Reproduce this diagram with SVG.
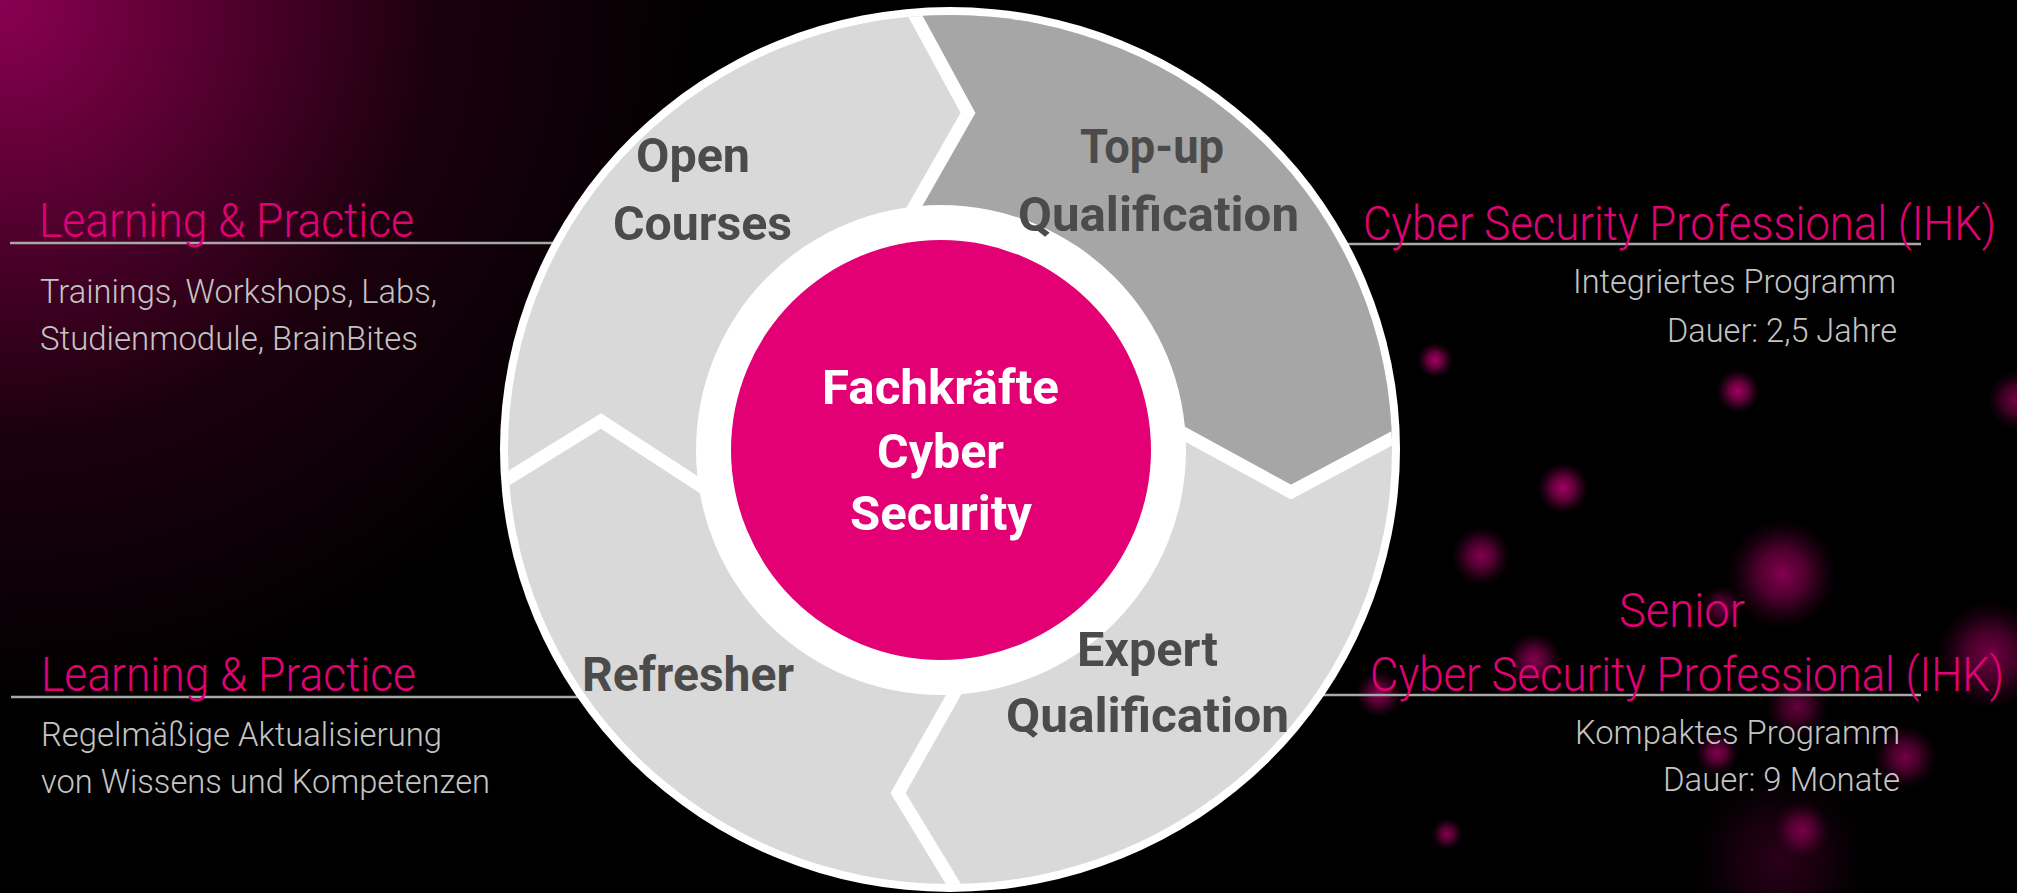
<svg xmlns="http://www.w3.org/2000/svg" width="2017" height="893" viewBox="0 0 2017 893">
<defs>
<radialGradient id="corner" gradientUnits="userSpaceOnUse" cx="0" cy="0" r="720">
<stop offset="0" stop-color="#8a0052"/>
<stop offset="0.3" stop-color="#55002f"/>
<stop offset="0.6" stop-color="#1c000e"/>
<stop offset="1" stop-color="#000"/>
</radialGradient>
<radialGradient id="bokeh">
<stop offset="0" stop-color="#b0006a" stop-opacity="0.95"/>
<stop offset="0.45" stop-color="#8a0052" stop-opacity="0.7"/>
<stop offset="1" stop-color="#4a002a" stop-opacity="0"/>
</radialGradient>
<clipPath id="ringClip"><ellipse cx="950" cy="449.5" rx="442" ry="434.5"/></clipPath>
<style>
.ring{font-family:Roboto,"Liberation Sans",sans-serif;font-weight:700;font-size:48px;fill:#4b4b4b}
.core{font-family:Roboto,"Liberation Sans",sans-serif;font-weight:700;font-size:48px;fill:#fff}
.title{font-family:Roboto,"Liberation Sans",sans-serif;font-weight:300;font-size:48px;fill:#e20074}
.desc{font-family:Roboto,"Liberation Sans",sans-serif;font-weight:300;font-size:34px;fill:#c4c4c4}
.rule{stroke:#a8a8a8;stroke-width:2.5}
.sep{fill:none;stroke:#fff;stroke-width:13;stroke-linejoin:miter}
</style>
</defs>
<rect width="2017" height="893" fill="#000"/>
<rect width="2017" height="893" fill="url(#corner)"/>
<g id="bokeh-dots">
<circle cx="1435" cy="360" r="18" fill="url(#bokeh)"/>
<circle cx="1738" cy="391" r="22" fill="url(#bokeh)"/>
<circle cx="1563" cy="488" r="26" fill="url(#bokeh)"/>
<circle cx="1481" cy="556" r="30" fill="url(#bokeh)" opacity="0.8"/>
<circle cx="1782" cy="574" r="55" fill="url(#bokeh)" opacity="0.8"/>
<circle cx="2017" cy="400" r="30" fill="url(#bokeh)" opacity="0.7"/>
<circle cx="1722" cy="607" r="22" fill="url(#bokeh)" opacity="0.6"/>
<circle cx="1990" cy="655" r="55" fill="url(#bokeh)" opacity="0.7"/>
<circle cx="1534" cy="660" r="28" fill="url(#bokeh)" opacity="0.8"/>
<circle cx="1379" cy="694" r="24" fill="url(#bokeh)" opacity="0.8"/>
<circle cx="1797" cy="707" r="32" fill="url(#bokeh)" opacity="0.6"/>
<circle cx="1717" cy="753" r="22" fill="url(#bokeh)" opacity="0.8"/>
<circle cx="1905" cy="757" r="32" fill="url(#bokeh)" opacity="0.7"/>
<circle cx="1802" cy="830" r="28" fill="url(#bokeh)" opacity="0.7"/>
<circle cx="1447" cy="834" r="16" fill="url(#bokeh)" opacity="0.8"/>
<circle cx="1780" cy="860" r="90" fill="url(#bokeh)" opacity="0.25"/>
</g>
<g id="connectors">
<line class="rule" x1="10" y1="243" x2="620" y2="243"/>
<line class="rule" x1="11" y1="697" x2="620" y2="697"/>
<line class="rule" x1="1300" y1="244" x2="1921" y2="244"/>
<line class="rule" x1="1300" y1="695" x2="1921" y2="695"/>
</g>
<g id="cycle">
<ellipse cx="950" cy="449.5" rx="450" ry="442.5" fill="#fff"/>
<ellipse cx="950" cy="449.5" rx="442" ry="434.5" fill="#d9d9d9"/>
<polygon clip-path="url(#ringClip)" fill="#a6a6a6" points="905,-3 968,113 900,232 1170,426 1291,492 1415,426 1480,390 1480,-40 890,-40"/>
<g clip-path="url(#ringClip)">
<polyline class="sep" points="905,-3 968,113 900,232"/>
<polyline class="sep" points="1170,426 1291,492 1415,426"/>
<polyline class="sep" points="962,680 898,793 965,903"/>
<polyline class="sep" points="488,491 601,421 710,492"/>
</g>
<circle cx="941" cy="450" r="245" fill="#fff"/>
</g>
<g id="node-open-courses">
<text class="ring" x="636" y="172" textLength="114" lengthAdjust="spacingAndGlyphs">Open</text>
<text class="ring" x="613" y="240" textLength="179" lengthAdjust="spacingAndGlyphs">Courses</text>
</g>
<g id="node-topup">
<text class="ring" x="1080" y="163" textLength="144" lengthAdjust="spacingAndGlyphs">Top-up</text>
<text class="ring" x="1018" y="231" textLength="281" lengthAdjust="spacingAndGlyphs">Qualification</text>
</g>
<g id="node-expert">
<text class="ring" x="1077" y="666" textLength="141" lengthAdjust="spacingAndGlyphs">Expert</text>
<text class="ring" x="1006" y="732" textLength="283" lengthAdjust="spacingAndGlyphs">Qualification</text>
</g>
<g id="node-refresher">
<text class="ring" x="582" y="691" textLength="212" lengthAdjust="spacingAndGlyphs">Refresher</text>
</g>
<g id="node-center">
<circle cx="941" cy="450" r="210" fill="#e20074"/>
<text class="core" x="822" y="404" textLength="237" lengthAdjust="spacingAndGlyphs">Fachkräfte</text>
<text class="core" x="877" y="468" textLength="127" lengthAdjust="spacingAndGlyphs">Cyber</text>
<text class="core" x="850" y="530" textLength="182" lengthAdjust="spacingAndGlyphs">Security</text>
</g>
<g id="label-learning-top">
<text class="title" x="39" y="237" textLength="375" lengthAdjust="spacingAndGlyphs">Learning &amp; Practice</text>
<text class="desc" x="40" y="303" textLength="397" lengthAdjust="spacingAndGlyphs">Trainings, Workshops, Labs,</text>
<text class="desc" x="40" y="350" textLength="378" lengthAdjust="spacingAndGlyphs">Studienmodule, BrainBites</text>
</g>
<g id="label-learning-bottom">
<text class="title" x="41" y="691" textLength="375" lengthAdjust="spacingAndGlyphs">Learning &amp; Practice</text>
<text class="desc" x="41" y="746" textLength="401" lengthAdjust="spacingAndGlyphs">Regelmäßige Aktualisierung</text>
<text class="desc" x="41" y="793" textLength="449" lengthAdjust="spacingAndGlyphs">von Wissens und Kompetenzen</text>
</g>
<g id="label-csp">
<text class="title" x="1363" y="240" textLength="633" lengthAdjust="spacingAndGlyphs">Cyber Security Professional (IHK)</text>
<text class="desc" x="1573" y="293" textLength="323" lengthAdjust="spacingAndGlyphs">Integriertes Programm</text>
<text class="desc" x="1667" y="342" textLength="230" lengthAdjust="spacingAndGlyphs">Dauer: 2,5 Jahre</text>
</g>
<g id="label-senior-csp">
<text class="title" x="1619" y="627" textLength="126" lengthAdjust="spacingAndGlyphs">Senior</text>
<text class="title" x="1370" y="691" textLength="634" lengthAdjust="spacingAndGlyphs">Cyber Security Professional (IHK)</text>
<text class="desc" x="1575" y="744" textLength="325" lengthAdjust="spacingAndGlyphs">Kompaktes Programm</text>
<text class="desc" x="1663" y="791" textLength="237" lengthAdjust="spacingAndGlyphs">Dauer: 9 Monate</text>
</g>
</svg>
